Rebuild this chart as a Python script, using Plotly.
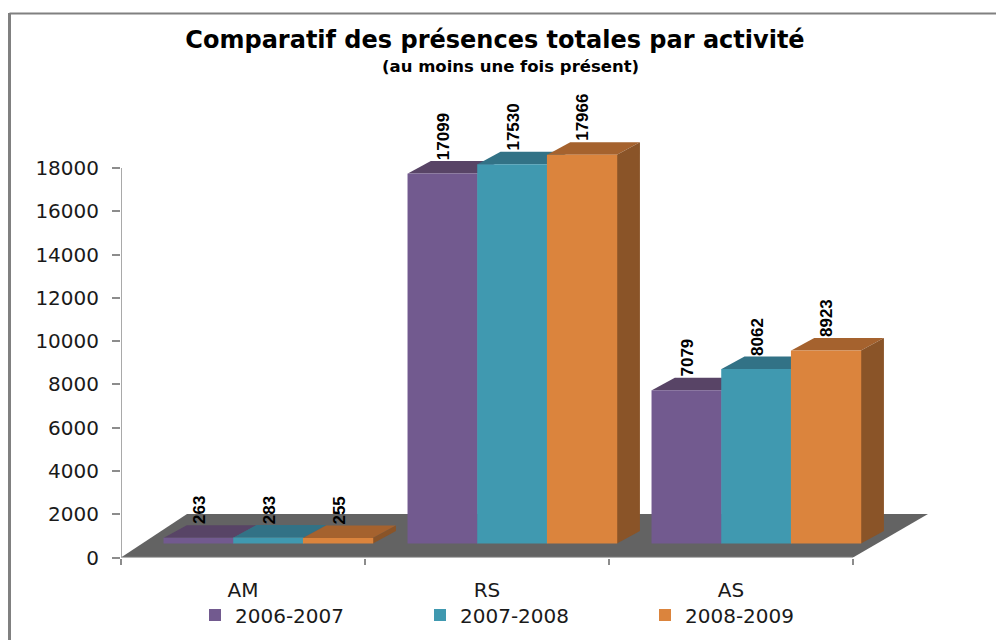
import plotly.graph_objects as go

categories = ["AM", "RS", "AS"]
series_names = ["2006-2007", "2007-2008", "2008-2009"]
values_2006 = [263, 17099, 7079]
values_2007 = [283, 17530, 8062]
values_2008 = [255, 17966, 8923]
y_ticks = [0, 2000, 4000, 6000, 8000, 10000, 12000, 14000, 16000, 18000]

front_colors = ["#725A8F", "#4099B0", "#DB843D"]
top_colors = ["#584466", "#327286", "#A5622E"]
side_color = "#8A5428"
floor_color = "#636363"
axis_color = "#8C8C8C"
text_color = "#1A1A1A"

W, H = 996, 640
L, R, T, B = 121, 46, 100, 82.5
CAT_PX = 244.0
VAL_PX = 389.5 / 18000
plot_w, plot_h = W - L - R, H - T - B

# pseudo-3D projection, in data units
bar_w = 69.7 / CAT_PX
shift = 0.104
dx = 23 / CAT_PX
dy = 12.5 / VAL_PX
lift = 14 / VAL_PX

all_series = [values_2006, values_2007, values_2008]
fig = go.Figure()
shapes = []
annotations = []


def poly(pts, color):
    path = "M " + " L ".join(f"{x},{y}" for x, y in pts) + " Z"
    return dict(type="path", path=path, xref="x", yref="y", fillcolor=color,
                line=dict(width=0), layer="below")


def px_x(p):
    return p / W


def px_y(p):
    return 1 - p / H


# floor
shapes.append(poly([(0, 0), (3, 0), (3 + 75 / CAT_PX, 43.5 / VAL_PX),
                    (66 / CAT_PX, 43.5 / VAL_PX)], floor_color))

for s, vals in enumerate(all_series):
    xs = [i + 0.5 + shift + (s - 1) * bar_w for i in range(3)]
    fig.add_bar(x=xs, y=vals, base=lift, width=bar_w + 0.6 / CAT_PX, name=series_names[s],
                marker=dict(color=front_colors[s], line=dict(width=0)),
                hoverinfo="skip")
    for x, v in zip(xs, vals):
        top = lift + v
        x0, x1 = x - bar_w / 2, x + bar_w / 2
        shapes.append(poly([(x0, top), (x1, top), (x1 + dx, top + dy),
                            (x0 + dx, top + dy)], top_colors[s]))
        if s == 2:
            shapes.append(poly([(x1, lift), (x1 + dx, lift + dy),
                                (x1 + dx, top + dy), (x1, top)], side_color))
        annotations.append(dict(x=x + 1 / CAT_PX, y=top + dy, xref="x", yref="y",
                                text=f"<b>{v}</b>", showarrow=False, textangle=-90,
                                xanchor="center", yanchor="bottom", yshift=-1,
                                font=dict(family="Liberation Sans", size=17, color="#000000")))

annotations.append(dict(x=px_x(510), y=px_y(66), xref="paper", yref="paper",
                        text="<b>(au moins une fois présent)</b>", showarrow=False,
                        xanchor="center", yanchor="middle",
                        font=dict(family="DejaVu Sans", size=16.5, color="#000000")))

# axis lines limited to the drawn scale
fig.add_scatter(x=[0, 0], y=[0, 18000], mode="lines", cliponaxis=False, showlegend=False,
                line=dict(color=axis_color, width=1.5), hoverinfo="skip")
fig.add_scatter(x=[0, 3], y=[0, 0], mode="lines", cliponaxis=False, showlegend=False,
                line=dict(color=axis_color, width=1.5), hoverinfo="skip")

# outer frame
shapes.append(dict(type="line", xref="paper", yref="paper", line=dict(color="#808080", width=3),
                   x0=px_x(9.5), x1=px_x(9.5), y0=px_y(13), y1=px_y(640)))
shapes.append(dict(type="line", xref="paper", yref="paper", line=dict(color="#808080", width=2),
                   x0=px_x(9.5), x1=px_x(996), y0=px_y(13.5), y1=px_y(13.5)))

fig.update_layout(
    width=W, height=H, autosize=False,
    paper_bgcolor="white", plot_bgcolor="white",
    margin=dict(l=0, r=0, t=0, b=0, pad=0, autoexpand=False),
    barmode="overlay", shapes=shapes, annotations=annotations,
    font=dict(family="DejaVu Sans", color=text_color),
    title=dict(text="<b>Comparatif des présences totales par activité</b>",
               x=495 / W, xanchor="center", y=1 - 40 / H, yanchor="middle",
               font=dict(family="DejaVu Sans", size=24, color="#000000")),
    legend=dict(orientation="h", x=px_x(195), xanchor="left", y=px_y(615), yanchor="middle",
                font=dict(family="DejaVu Sans", size=20, color=text_color),
                entrywidth=180, entrywidthmode="pixels", itemsizing="constant",
                bgcolor="rgba(0,0,0,0)", traceorder="normal"),
    xaxis=dict(domain=[L / W, (W - R) / W], range=[0, plot_w / CAT_PX], automargin=False,
               showgrid=False, zeroline=False, showline=False,
               tickvals=[0.5, 1.5, 2.5], ticktext=categories,
               ticks="outside", ticklen=14, tickcolor="rgba(0,0,0,0)",
               tickfont=dict(family="DejaVu Sans", size=20, color=text_color),
               minor=dict(tickvals=[0, 1, 2, 3], ticks="outside", ticklen=6,
                          tickcolor=axis_color, tickwidth=1.5)),
    yaxis=dict(domain=[B / H, (H - T) / H], range=[0, plot_h / VAL_PX], automargin=False,
               showgrid=False, zeroline=False, showline=False,
               tickvals=y_ticks, tickformat="d", ticks="outside", ticklen=8,
               tickwidth=1.5, tickcolor=axis_color, ticklabelstandoff=9,
               tickfont=dict(family="DejaVu Sans", size=20, color=text_color)),
)

fig.write_html("out.html", post_script="document.body.style.margin='0';",
               config={"displayModeBar": False})
